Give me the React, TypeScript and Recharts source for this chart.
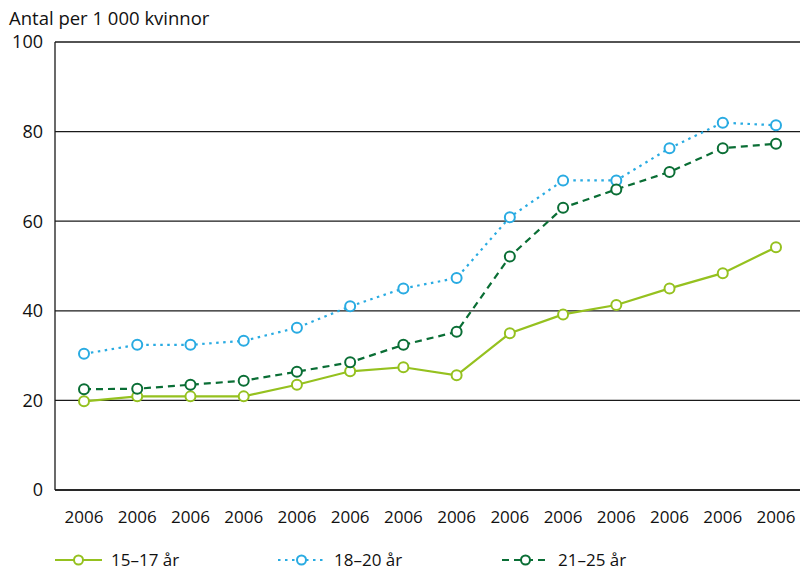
import React from "react";
import {
  LineChart,
  Line,
  XAxis,
  YAxis,
  CartesianGrid,
  Legend,
  Label,
} from "recharts";

const categories = [
  "2006", "2006", "2006", "2006", "2006", "2006", "2006",
  "2006", "2006", "2006", "2006", "2006", "2006", "2006",
];
const age15to17 = [19.8, 20.9, 20.9, 20.9, 23.5, 26.5, 27.4, 25.6, 35, 39.2, 41.3, 45, 48.4, 54.2];
const age18to20 = [30.4, 32.4, 32.4, 33.3, 36.2, 41, 45, 47.3, 60.9, 69.1, 69.1, 76.3, 82, 81.4];
const age21to25 = [22.5, 22.6, 23.5, 24.4, 26.4, 28.5, 32.4, 35.3, 52.1, 63, 67.1, 71, 76.3, 77.3];
const yTicks = [0, 20, 40, 60, 80, 100];
const yTitle = "Antal per 1 000 kvinnor";

const seriesNames = ["15–17 år", "18–20 år", "21–25 år"];
const seriesColors = ["#95c11f", "#29abe2", "#0a6e35"];
const seriesDash = [undefined, "2.5 4.5", "7 5"];

const data = categories.map((c, i) => ({
  year: c,
  a: age15to17[i],
  b: age18to20[i],
  c: age21to25[i],
}));

const FONT = "'Open Sans', sans-serif";

const legendX = [55, 278, 502];

const LegendContent = () => (
  <svg width={800} height={40} style={{ display: "block", overflow: "visible" }}>
    {seriesNames.map((name, i) => (
      <g key={name}>
        <line
          x1={legendX[i]}
          x2={legendX[i] + 47}
          y1={30}
          y2={30}
          stroke={seriesColors[i]}
          strokeWidth={2.2}
          strokeDasharray={seriesDash[i]}
        />
        <circle
          cx={legendX[i] + 23.5}
          cy={30}
          r={4.5}
          fill="#fff"
          stroke={seriesColors[i]}
          strokeWidth={2}
        />
        <text
          x={legendX[i] + 56}
          y={35.5}
          fontFamily={FONT}
          fontSize={17}
          fill="#111"
        >
          {name}
        </text>
      </g>
    ))}
  </svg>
);

const dot = (color: string) => ({
  r: 5,
  fill: "#fff",
  stroke: color,
  strokeWidth: 2,
  strokeDasharray: "0",
});

export default function App() {
  const keys = ["a", "b", "c"];
  return (
    <div style={{ position: "absolute", left: 0, top: 0, width: 800, height: 570, background: "#fff" }}>
      <LineChart
        width={800}
        height={570}
        data={data}
        margin={{ top: 42, right: 0, left: 0, bottom: 0 }}
      >
        <CartesianGrid horizontal vertical={false} stroke="#1a1a1a" strokeWidth={1.3} />
        <XAxis
          dataKey="year"
          height={40}
          padding={{ left: 29, right: 24 }}
          tickLine={false}
          tickSize={0}
          tickMargin={21}
          stroke="#1a1a1a"
          strokeWidth={1.3}
          interval={0}
          tick={{ fontFamily: FONT, fontSize: 17, fill: "#111" }}
        />
        <YAxis
          width={55}
          domain={[0, 100]}
          ticks={yTicks}
          tickLine={false}
          tickSize={0}
          tickMargin={12}
          stroke="#1a1a1a"
          strokeWidth={1.3}
          tick={{ fontFamily: FONT, fontSize: 18, fill: "#111" }}
        >
          <Label
            content={() => (
              <text x={9} y={25} fontFamily={FONT} fontSize={18.5} fill="#111">
                {yTitle}
              </text>
            )}
          />
        </YAxis>
        <Legend
          verticalAlign="bottom"
          height={40}
          content={<LegendContent />}
          wrapperStyle={{ left: 0, width: 800 }}
        />
        {keys.map((k, i) => (
          <Line
            key={k}
            dataKey={k}
            name={seriesNames[i]}
            type="linear"
            stroke={seriesColors[i]}
            strokeWidth={2.2}
            strokeDasharray={seriesDash[i]}
            dot={dot(seriesColors[i])}
            activeDot={false}
            isAnimationActive={false}
          />
        ))}
      </LineChart>
    </div>
  );
}
